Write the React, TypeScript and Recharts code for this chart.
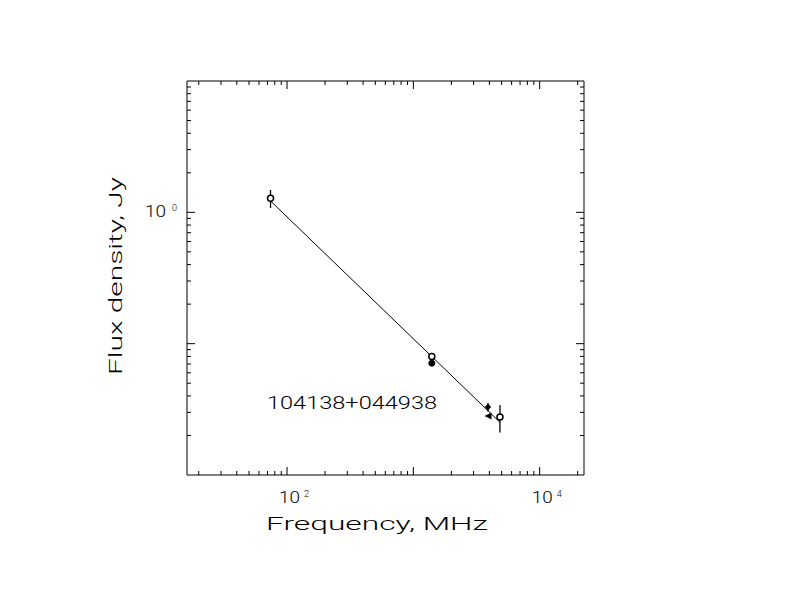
import React from 'react';
import { ComposedChart, Scatter, XAxis, YAxis, ErrorBar, Customized } from 'recharts';

// 観測点 (周波数 MHz, フラックス Jy, 誤差 Jy)
const openFreq = [74, 1400, 4850];
const openFlux = [1.28, 0.08, 0.0276];
const openErr = [0.2, 0.003, 0.0065];

const filledFreq = [1400];
const filledFlux = [0.071];
const filledErr = [0.003];

const diamondFreq = [3900];
const diamondFlux = [0.0329];
const diamondErr = [0.0025];

const triangleFreq = [3900];
const triangleFlux = [0.0281];

// べき乗則フィット
const fitFreq = [74, 4850];
const fitFlux = [1.22, 0.0252];

// 目盛り
const xTicks = [
  20, 30, 40, 50, 60, 70, 80, 90, 100, 200, 300, 400, 500, 600, 700, 800, 900,
  1000, 2000, 3000, 4000, 5000, 6000, 7000, 8000, 9000, 10000, 20000,
];
const yTicks = [
  0.02, 0.03, 0.04, 0.05, 0.06, 0.07, 0.08, 0.09, 0.1, 0.2, 0.3, 0.4, 0.5, 0.6,
  0.7, 0.8, 0.9, 1, 2, 3, 4, 5, 6, 7, 8, 9,
];
const xLabelValues = [100, 10000];
const xLabelExp = ['2', '4'];
const yLabelValues = [1];
const yLabelExp = ['0'];

const xDomain = [16.14, 22450];
const yDomain = [0.01, 10];

const xTitle = 'Frequency, MHz';
const yTitle = 'Flux density, Jy';
const sourceName = '104138+044938';

const FONT = 'Roboto, "DejaVu Sans", sans-serif';
const WEIGHT = 300;

const toPoints = (xs: number[], ys: number[], errs?: number[]) =>
  xs.map((x, i) => ({ x, y: ys[i], err: errs ? errs[i] : 0 }));

const isMajor = (v: number) =>
  Math.abs(Math.log10(v) - Math.round(Math.log10(v))) < 1e-6;

const BottomTick = (props: any) => {
  const { x, y, payload } = props;
  const v = payload.value;
  const len = isMajor(v) ? 8 : 4;
  const idx = xLabelValues.indexOf(v);
  return (
    <g>
      <line x1={x} y1={y} x2={x} y2={y - len} stroke="#000" />
      {idx >= 0 && (
        <text x={x - 8} y={y + 28} fontFamily={FONT} fontWeight={WEIGHT} fontSize={16} fill="#000">
          <tspan textLength={21} lengthAdjust="spacingAndGlyphs">10</tspan>
          <tspan dx={4} dy={-6} fontSize={9}>
            {xLabelExp[idx]}
          </tspan>
        </text>
      )}
    </g>
  );
};

const TopTick = (props: any) => {
  const { x, y, payload } = props;
  const len = isMajor(payload.value) ? 8 : 4;
  return <line x1={x} y1={y} x2={x} y2={y + len} stroke="#000" />;
};

const LeftTick = (props: any) => {
  const { x, y, payload } = props;
  const v = payload.value;
  const len = isMajor(v) ? 8 : 4;
  const idx = yLabelValues.indexOf(v);
  return (
    <g>
      <line x1={x} y1={y} x2={x + len} y2={y} stroke="#000" />
      {idx >= 0 && (
        <text
          x={x - 42}
          y={y + 4.5}
          fontFamily={FONT}
          fontWeight={WEIGHT}
          fontSize={16}
          fill="#000"
          textLength={21}
          lengthAdjust="spacingAndGlyphs"
        >
          10
        </text>
      )}
      {idx >= 0 && (
        <text x={x - 10} y={y - 1.5} textAnchor="end" fontFamily={FONT} fontWeight={WEIGHT} fontSize={9} fill="#000">
          {yLabelExp[idx]}
        </text>
      )}
    </g>
  );
};

const RightTick = (props: any) => {
  const { x, y, payload } = props;
  const len = isMajor(payload.value) ? 8 : 4;
  return <line x1={x} y1={y} x2={x - len} y2={y} stroke="#000" />;
};

const OpenCircle = (props: any) => (
  <circle cx={props.cx} cy={props.cy} r={3} fill="#fff" stroke="#000" strokeWidth={1.5} />
);
const FilledCircle = (props: any) => (
  <circle cx={props.cx} cy={props.cy} r={3} fill="#000" stroke="#000" strokeWidth={1} />
);
const Diamond = (props: any) => {
  const { cx, cy } = props;
  const s = 3.2;
  return (
    <polygon
      points={`${cx},${cy - s} ${cx + s},${cy} ${cx},${cy + s} ${cx - s},${cy}`}
      fill="#000"
    />
  );
};
const LeftTriangle = (props: any) => {
  const { cx, cy } = props;
  const s = 3.5;
  return (
    <polygon
      points={`${cx - s},${cy} ${cx + s},${cy - s} ${cx + s},${cy + s}`}
      fill="#000"
    />
  );
};
const NoShape = () => <g />;

const Texts = () => (
  <g fontFamily={FONT} fontWeight={WEIGHT} fill="#000">
    <text x={266} y={530} fontSize={18} textLength={222} lengthAdjust="spacingAndGlyphs">
      {xTitle}
    </text>
    <text
      transform="translate(122,375) rotate(-90)"
      fontSize={18}
      textLength={198}
      lengthAdjust="spacingAndGlyphs"
    >
      {yTitle}
    </text>
    <text x={267} y={409} fontSize={19} textLength={170} lengthAdjust="spacingAndGlyphs">
      {sourceName}
    </text>
  </g>
);

const axisCommon = {
  type: 'number' as const,
  scale: 'log' as const,
  allowDataOverflow: true,
  interval: 0 as const,
  tickSize: 0,
  tickMargin: 0,
  axisLine: { stroke: '#000' },
};

export default function App() {
  return (
    <div
      style={{
        position: 'absolute',
        left: 0,
        top: 0,
        width: 792,
        height: 612,
        background: '#fff',
      }}
    >
      <ComposedChart
        width={792}
        height={612}
        margin={{ top: 80, right: 207, bottom: 136, left: 186 }}
      >
        <XAxis
          {...axisCommon}
          dataKey="x"
          domain={xDomain}
          ticks={xTicks}
          height={1}
          tick={<BottomTick />}
        />
        <XAxis
          {...axisCommon}
          xAxisId="top"
          orientation="top"
          dataKey="x"
          domain={xDomain}
          ticks={xTicks}
          height={1}
          tick={<TopTick />}
        />
        <YAxis
          {...axisCommon}
          dataKey="y"
          domain={yDomain}
          ticks={yTicks}
          width={1}
          tick={<LeftTick />}
        />
        <YAxis
          {...axisCommon}
          yAxisId="right"
          orientation="right"
          dataKey="y"
          domain={yDomain}
          ticks={yTicks}
          width={1}
          tick={<RightTick />}
        />
        <Scatter
          data={toPoints(fitFreq, fitFlux)}
          line={{ stroke: '#000', strokeWidth: 1 }}
          shape={NoShape}
          isAnimationActive={false}
        />
        <Scatter data={toPoints(openFreq, openFlux, openErr)} shape={OpenCircle} isAnimationActive={false}>
          <ErrorBar dataKey="err" direction="y" width={0} stroke="#000" strokeWidth={1.3} />
        </Scatter>
        <Scatter data={toPoints(filledFreq, filledFlux, filledErr)} shape={FilledCircle} isAnimationActive={false}>
          <ErrorBar dataKey="err" direction="y" width={0} stroke="#000" strokeWidth={1.3} />
        </Scatter>
        <Scatter data={toPoints(diamondFreq, diamondFlux, diamondErr)} shape={Diamond} isAnimationActive={false}>
          <ErrorBar dataKey="err" direction="y" width={0} stroke="#000" strokeWidth={1.3} />
        </Scatter>
        <Scatter data={toPoints(triangleFreq, triangleFlux)} shape={LeftTriangle} isAnimationActive={false} />
        <Customized component={Texts} />
      </ComposedChart>
    </div>
  );
}
